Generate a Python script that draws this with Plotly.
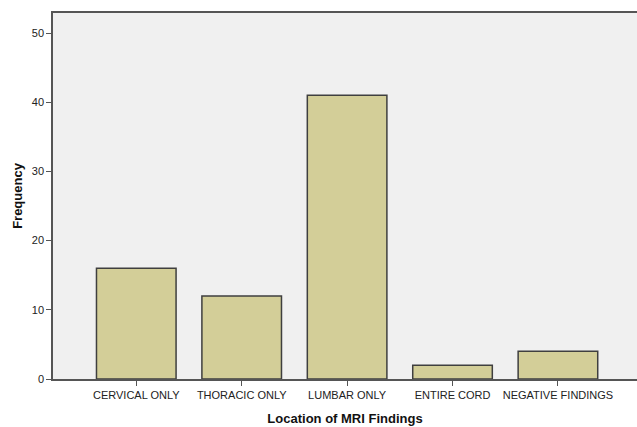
import plotly.graph_objects as go

categories = ["CERVICAL ONLY", "THORACIC ONLY", "LUMBAR ONLY", "ENTIRE CORD", "NEGATIVE FINDINGS"]
frequency = [16, 12, 41, 2, 4]
y_ticks = [0, 10, 20, 30, 40, 50]

fig = go.Figure(go.Bar(
    x=categories, y=frequency,
    marker=dict(color="#D3CE98", line=dict(color="#3f3f3f", width=1.5)),
))

fig.update_layout(
    width=637, height=427,
    margin=dict(l=53, r=0, t=13, b=48),
    paper_bgcolor="white", plot_bgcolor="#F0F0F0",
    bargap=0.245, showlegend=False,
    font=dict(family="Liberation Sans, Arial", size=11, color="#222"),
)
fig.update_xaxes(
    range=[-0.79, 4.75], showgrid=False, showline=True, linecolor="#555", linewidth=1.5,
    mirror=True, ticks="outside", ticklen=5, tickcolor="#555", tickwidth=1.2,
    tickfont=dict(size=11, color="#222"),
    title=dict(text="<b>Location of MRI Findings</b>", font=dict(size=13, color="#111"), standoff=14),
)
fig.update_yaxes(
    range=[0, 52.9], tickvals=y_ticks, showgrid=False, zeroline=False, showline=True,
    linecolor="#555", linewidth=1.5, mirror=False, ticks="outside", ticklen=5,
    tickcolor="#555", tickwidth=1.2, tickfont=dict(size=11, color="#222"),
    title=dict(text="<b>Frequency</b>", font=dict(size=13, color="#111"), standoff=6),
)

fig.write_html("out.html", config={"displayModeBar": False},
               post_script="document.body.style.margin='0';document.body.style.overflow='hidden';")
